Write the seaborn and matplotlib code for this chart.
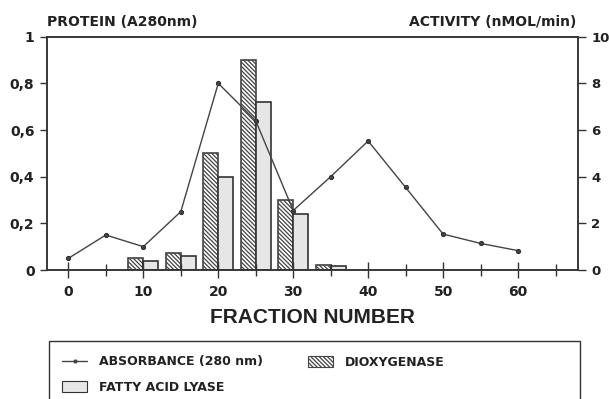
import matplotlib
matplotlib.use("Agg")
import matplotlib.pyplot as plt
from matplotlib.patches import Rectangle
from matplotlib.lines import Line2D
from matplotlib.patches import Patch
import seaborn as sns
import pandas as pd

# ---- data ----
fractions_abs = [0, 5, 10, 15, 20, 25, 30, 35, 40, 45, 50, 55, 60]
absorbance = [0.05, 0.15, 0.10, 0.25, 0.80, 0.64, 0.255, 0.40, 0.553, 0.354, 0.154, 0.114, 0.083]

fractions_act = [10, 15, 20, 25, 30, 35]
dioxygenase = [0.5, 0.75, 5.0, 9.0, 3.0, 0.2]
fatty_acid_lyase = [0.4, 0.6, 4.0, 7.2, 2.4, 0.17]

left_ticks = [0, 0.2, 0.4, 0.6, 0.8, 1.0]
left_ticklabels = ["0", "0,2", "0,4", "0,6", "0,8", "1"]
right_ticks = [0, 2, 4, 6, 8, 10]
x_major = [0, 10, 20, 30, 40, 50, 60]
x_minor = [5, 15, 25, 35, 45, 55, 65]

sns.set_theme(style="white")
plt.rcParams["font.family"] = ["DejaVu Sans"]
plt.rcParams["font.weight"] = "bold"
plt.rcParams["hatch.linewidth"] = 0.9

HATCH = "\\" * 8
fig = plt.figure(figsize=(6.09, 3.99), dpi=100)
ax = fig.add_axes([47/609, 1-270/399, (578-47)/609, (270-36.7)/399])
ax2 = ax.twinx()

dark = "#333333"
txt = "#222222"
hatch_col = "#444444"

# bars on right axis
df_act = pd.DataFrame({
    "fraction": fractions_act * 2,
    "activity": dioxygenase + fatty_acid_lyase,
    "enzyme": ["DIOXYGENASE"] * len(fractions_act) + ["FATTY ACID LYASE"] * len(fractions_act),
})
sns.barplot(data=df_act, x="fraction", y="activity", hue="enzyme",
            hue_order=["DIOXYGENASE", "FATTY ACID LYASE"],
            palette=["white", "#e6e6e6"], native_scale=True, dodge=True,
            width=0.8, edgecolor=dark, linewidth=1.2, ax=ax2, legend=False,
            errorbar=None, saturation=1)
for bar in ax2.containers[0]:
    bar.set_hatch(HATCH)
    bar.set_edgecolor(hatch_col)

# line on left axis
df_abs = pd.DataFrame({"fraction": fractions_abs, "absorbance": absorbance})
sns.lineplot(data=df_abs, x="fraction", y="absorbance", ax=ax, color="#444444",
             lw=1.0, marker="o", markersize=3, markeredgecolor="#333333")

ax.set_zorder(ax2.get_zorder() + 1)
ax.patch.set_visible(False)

ax.set_xlim(-2.85, 68)
ax.set_ylim(0, 1)
ax2.set_ylim(0, 10)
ax.set_xticks(x_major)
ax.set_xticks(x_minor, minor=True)
ax.set_yticks(left_ticks)
ax.set_yticklabels(left_ticklabels)
ax2.set_yticks(right_ticks)

for a in (ax, ax2):
    for s in a.spines.values():
        s.set_color(dark)
        s.set_linewidth(1.1)
ax.tick_params(axis="x", which="major", direction="inout", length=11, width=1.0,
               color=dark, labelsize=10, pad=5, bottom=True)
ax.tick_params(axis="x", which="minor", direction="inout", length=9, width=1.0,
               color=dark, bottom=True)
ax.tick_params(axis="y", direction="out", length=5, width=1.0, color=dark,
               labelsize=10, left=True, pad=4)
ax2.tick_params(axis="y", direction="out", length=6, width=1.0, color=dark,
                labelsize=9.5, right=True, pad=3.5)
for lbl in ax.get_xticklabels() + ax.get_yticklabels() + ax2.get_yticklabels():
    lbl.set_fontweight("bold")
    lbl.set_color(txt)

ax.set_xlabel("FRACTION NUMBER", fontsize=15, fontweight="bold", color=txt,
              labelpad=7, family="Liberation Sans")
ax.set_ylabel("")
ax2.set_ylabel("")

fig.text(47/609, 1-22/399, "PROTEIN (A280nm)", fontsize=10, fontweight="bold",
         ha="left", va="center", color=txt)
fig.text(576/609, 1-22/399, "ACTIVITY (nMOL/min)", fontsize=10, fontweight="bold",
         ha="right", va="center", color=txt)

# legend
handles = [
    Line2D([0], [0], color="#444444", lw=1.0, marker="o", markersize=2),
    Patch(facecolor="#e6e6e6", edgecolor=dark, linewidth=0.8),
    Patch(facecolor="white", edgecolor=hatch_col, hatch=HATCH, linewidth=0.8),
]
labels = ["ABSORBANCE (280 nm)", "FATTY ACID LYASE", "DIOXYGENASE"]
leg = fig.legend(handles, labels, ncol=2, loc="upper left",
                 bbox_to_anchor=(62/609, 1-355.5/399), frameon=False,
                 prop={"family": "DejaVu Sans", "weight": "bold", "size": 9},
                 handlelength=2.0, handleheight=1.0, columnspacing=3.6,
                 labelspacing=1.0, handletextpad=0.96, borderaxespad=0, borderpad=0)
for t in leg.get_texts():
    t.set_color(txt)
fig.add_artist(Rectangle((49/609, -0.05), (580-49)/609, (1-341/399) + 0.05,
                         transform=fig.transFigure, fill=False, edgecolor=dark,
                         linewidth=1.0, clip_on=False))

fig.savefig("out.png", dpi=100, facecolor="white")
